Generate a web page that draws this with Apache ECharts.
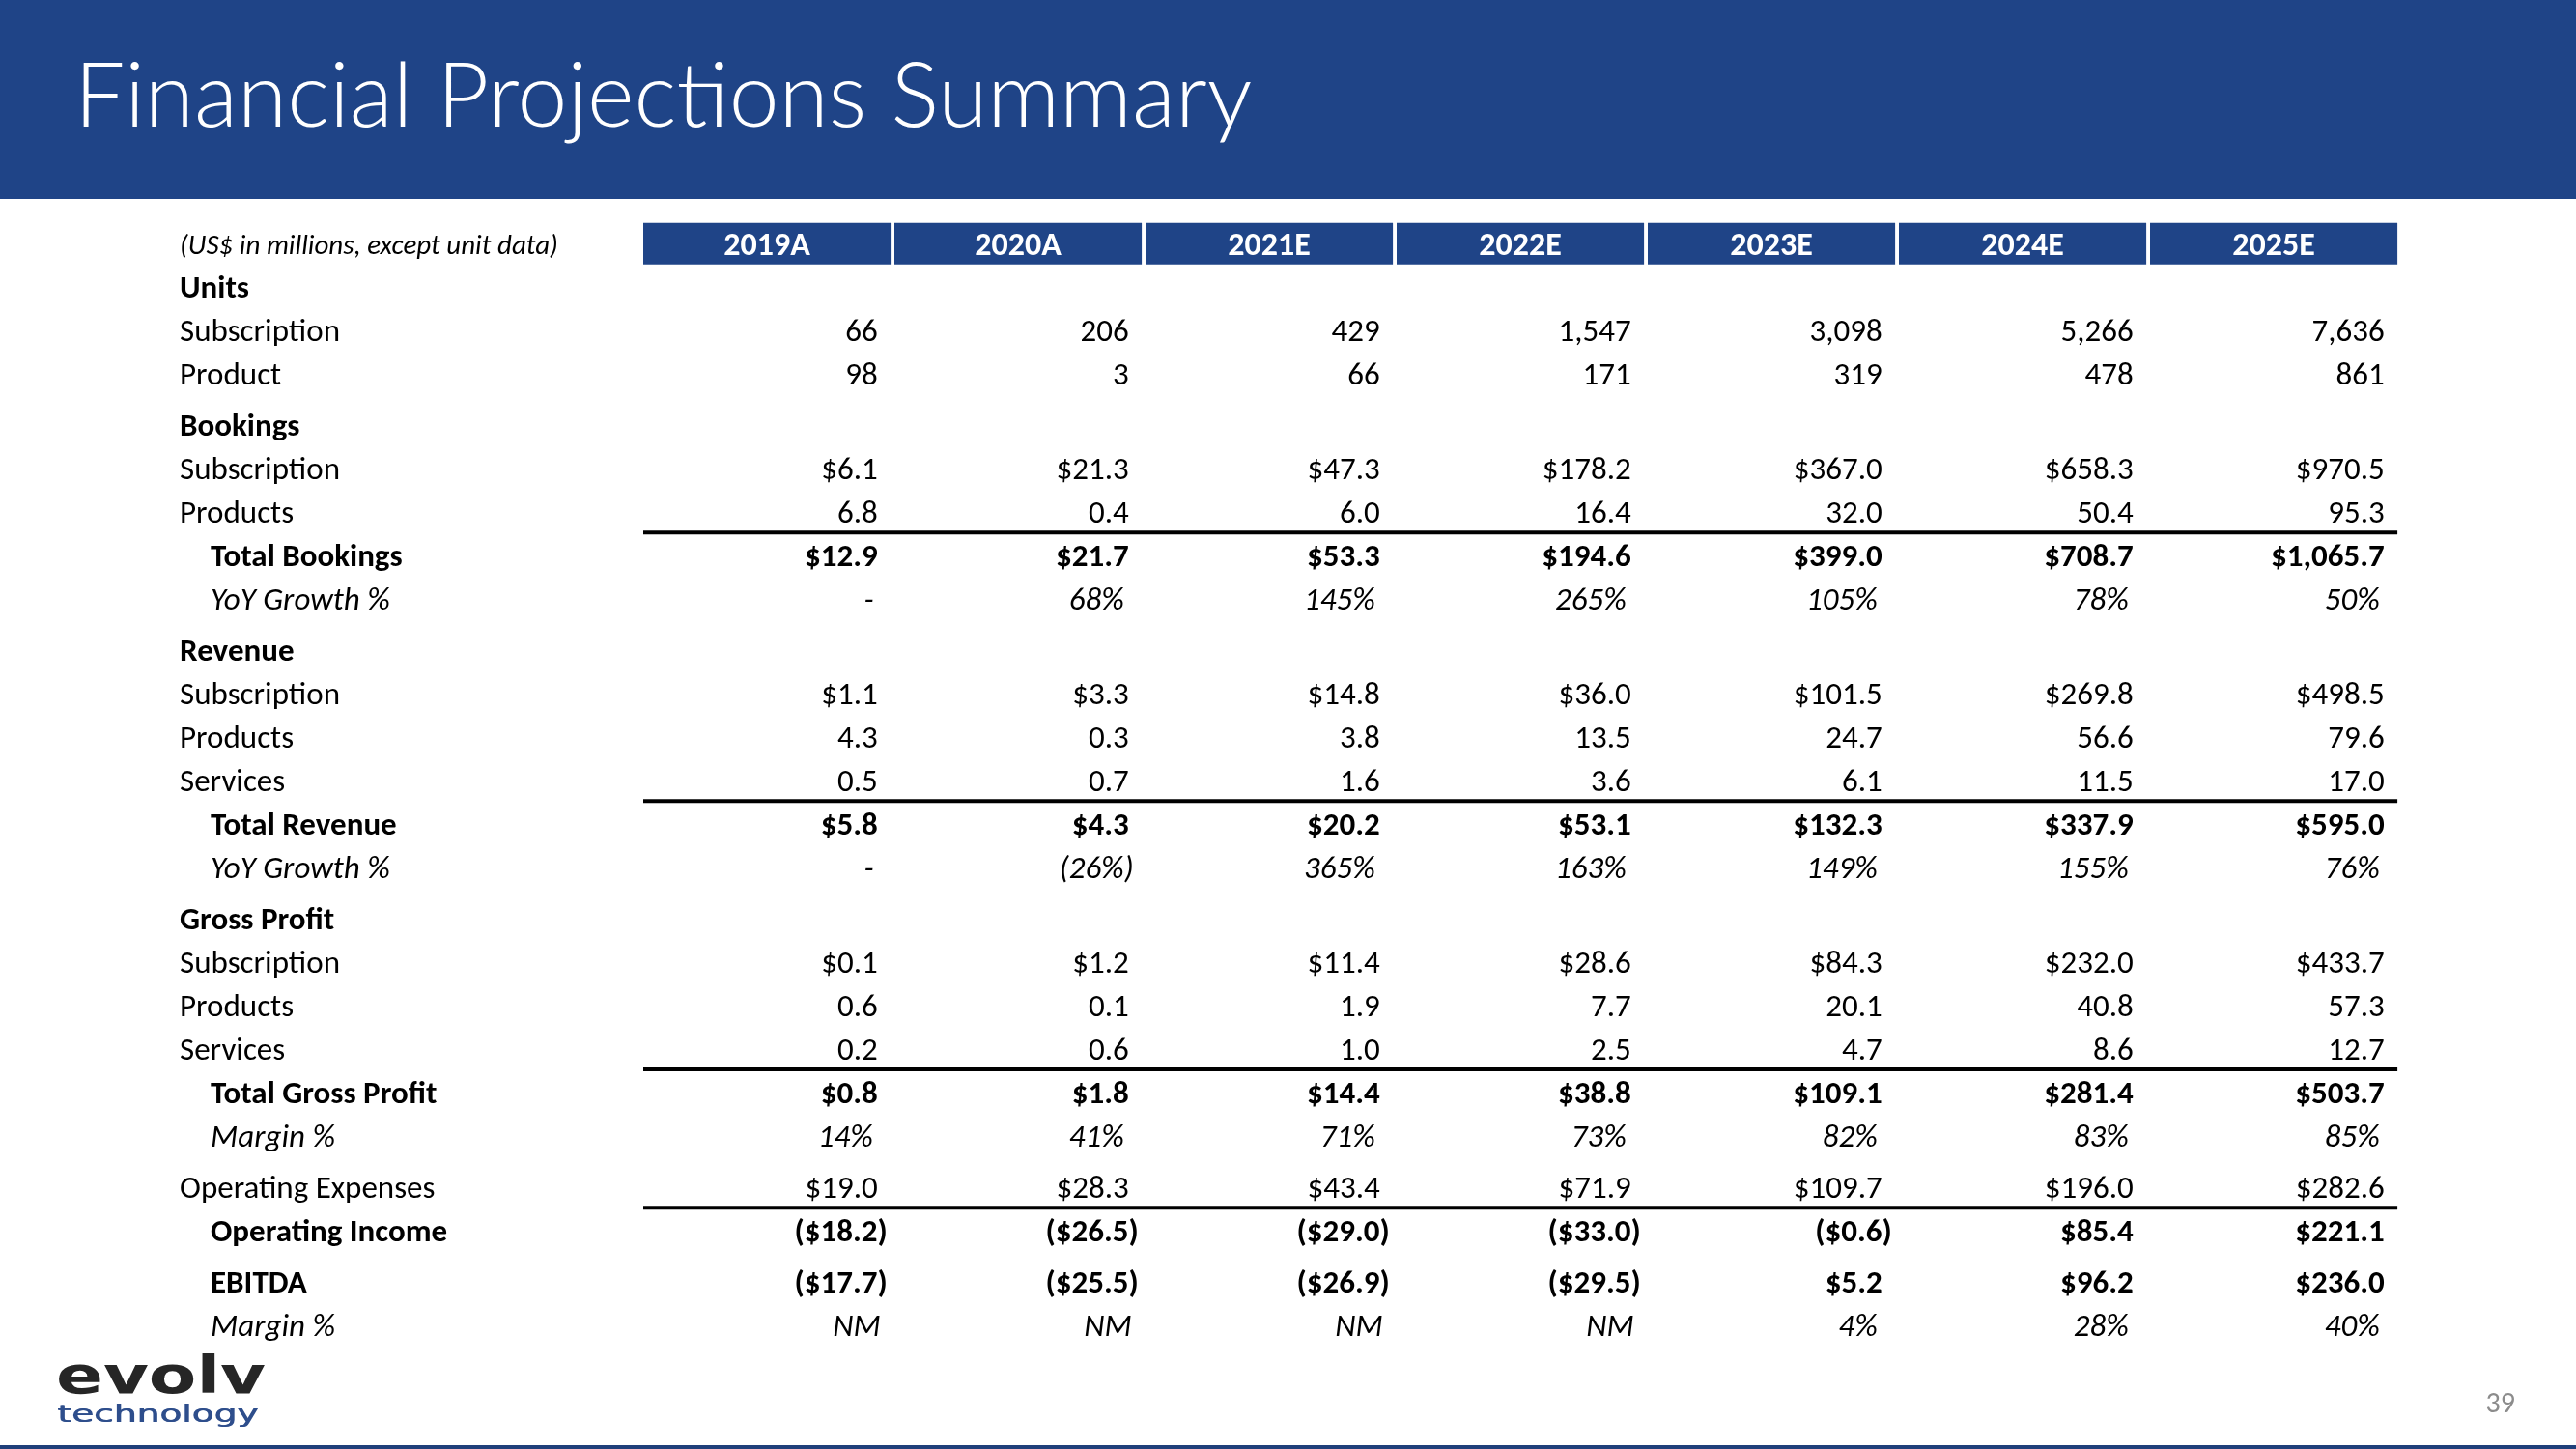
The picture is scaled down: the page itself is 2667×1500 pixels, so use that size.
<!DOCTYPE html>
<html><head><meta charset="utf-8">
<script src="https://cdn.jsdelivr.net/npm/echarts@6/dist/echarts.min.js"></script>
<style>html,body{margin:0;padding:0;background:#fff}#c{width:2667px;height:1500px}</style>
</head><body><div id="c"></div>
<script>
// ---------- data ----------
const years = ['2019A','2020A','2021E','2022E','2023E','2024E','2025E'];
const unitsSubscription    = [66, 206, 429, 1547, 3098, 5266, 7636];
const unitsProduct         = [98, 3, 66, 171, 319, 478, 861];
const bookingsSubscription = [6.1, 21.3, 47.3, 178.2, 367.0, 658.3, 970.5];
const bookingsProducts     = [6.8, 0.4, 6.0, 16.4, 32.0, 50.4, 95.3];
const totalBookings        = [12.9, 21.7, 53.3, 194.6, 399.0, 708.7, 1065.7];
const bookingsYoY          = [null, 68, 145, 265, 105, 78, 50];
const revenueSubscription  = [1.1, 3.3, 14.8, 36.0, 101.5, 269.8, 498.5];
const revenueProducts      = [4.3, 0.3, 3.8, 13.5, 24.7, 56.6, 79.6];
const revenueServices      = [0.5, 0.7, 1.6, 3.6, 6.1, 11.5, 17.0];
const totalRevenue         = [5.8, 4.3, 20.2, 53.1, 132.3, 337.9, 595.0];
const revenueYoY           = [null, -26, 365, 163, 149, 155, 76];
const gpSubscription       = [0.1, 1.2, 11.4, 28.6, 84.3, 232.0, 433.7];
const gpProducts           = [0.6, 0.1, 1.9, 7.7, 20.1, 40.8, 57.3];
const gpServices           = [0.2, 0.6, 1.0, 2.5, 4.7, 8.6, 12.7];
const totalGrossProfit     = [0.8, 1.8, 14.4, 38.8, 109.1, 281.4, 503.7];
const grossMargin          = [14, 41, 71, 73, 82, 83, 85];
const operatingExpenses    = [19.0, 28.3, 43.4, 71.9, 109.7, 196.0, 282.6];
const operatingIncome      = [-18.2, -26.5, -29.0, -33.0, -0.6, 85.4, 221.1];
const ebitda               = [-17.7, -25.5, -26.9, -29.5, 5.2, 96.2, 236.0];
const ebitdaMargin         = [null, null, null, null, 4, 28, 40];

const rowLabels = ['Units','Subscription','Product','Bookings','Subscription','Products','Total Bookings','YoY Growth %',
  'Revenue','Subscription','Products','Services','Total Revenue','YoY Growth %','Gross Profit','Subscription','Products',
  'Services','Total Gross Profit','Margin %','Operating Expenses','Operating Income','EBITDA','Margin %'];
const rowValues = [null, unitsSubscription, unitsProduct, null, bookingsSubscription, bookingsProducts, totalBookings, bookingsYoY,
  null, revenueSubscription, revenueProducts, revenueServices, totalRevenue, revenueYoY, null, gpSubscription, gpProducts,
  gpServices, totalGrossProfit, grossMargin, operatingExpenses, operatingIncome, ebitda, ebitdaMargin];
const rowFormat = [null,'int','int',null,'usd','num','usd','pct',null,'usd','num','num','usd','pct',null,'usd','num','num','usd','pct','usd','usd','usd','pctnm'];
const unitNote = '(US$ in millions, except unit data)';

// ---------- layout / style ----------
const rowKinds = ['section','item','item','section','item','item','total','ratio','section','item','item','item','total','ratio',
  'section','item','item','item','total','ratio','item','total','total','ratio'];
const rowGapBefore = [0,0,0,1,0,0,0,0,1,0,0,0,0,0,1,0,0,0,0,0,1,0,1,0];
const rowRule = [0,0,0,0,0,0,1,0,0,0,0,0,1,0,0,0,0,0,1,0,0,1,0,0];
const GAP = 0.185;
const rowPos = [];
{ let g = 0; rowLabels.forEach((_, i) => { g += rowGapBefore[i]; rowPos.push(i + g * GAP); }); }
const HEADER_POS = -0.97;
const LABEL_X = -1.846, INDENT_X = -1.723, BOX_W = 0.985, ANCHOR = 0.972;
const FONT = 'Carlito, Lato, sans-serif';
const FS = 33;
const TEXT_DY = 4;
const NAVY = '#1F4487';

function fmtNum(v, d) {
  return Math.abs(v).toLocaleString('en-US', {minimumFractionDigits: d, maximumFractionDigits: d});
}
function fmt(v, f) {
  if (f === 'pct' || f === 'pctnm') {
    if (v === null) return f === 'pct' ? '-' : 'NM';
    return v < 0 ? '(' + fmtNum(v, 0) + '%)' : fmtNum(v, 0) + '%';
  }
  const d = f === 'int' ? 0 : 1;
  const s = (f === 'usd' ? '$' : '') + fmtNum(v, d);
  return v < 0 ? '(' + s + ')' : s;
}
function styleFor(kind) {
  if (kind === 'section' || kind === 'total') return 'normal bold';
  if (kind === 'ratio') return 'italic normal';
  return 'normal normal';
}

// ---------- series data ----------
const headerData = years.map((y, i) => [i, HEADER_POS, i]);
const labelData = rowLabels.map((l, i) => [(rowKinds[i] === 'total' || rowKinds[i] === 'ratio') ? INDENT_X : LABEL_X, rowPos[i], i]);
labelData.push([LABEL_X, HEADER_POS, -1]);
const cellData = [];
rowValues.forEach((vals, r) => { if (vals) vals.forEach((v, c) => cellData.push([c + ANCHOR, rowPos[r], r, c])); });
const ruleData = [];
rowRule.forEach((f, r) => { if (f) ruleData.push([0, rowPos[r] - 0.5, r]); });

const chart = echarts.init(document.getElementById('c'), null, {renderer: 'canvas'});
chart.setOption({
  animation: false,
  backgroundColor: '#fff',
  grid: {left: 16, right: 51, top: 206, bottom: 36},
  xAxis: {type: 'value', min: -2.5, max: 7.5, show: false},
  yAxis: {type: 'value', min: -2, max: 26, inverse: true, show: false},
  graphic: [
    {type: 'rect', left: 0, top: 0, shape: {width: 2667, height: 206}, style: {fill: NAVY}, z: 0},
    {type: 'text', x: 77, y: 101, style: {text: 'Financial Projections Summary', fill: '#fff',
      font: '300 93px Lato, sans-serif', align: 'left', verticalAlign: 'middle'}, z: 1},
    {type: 'rect', left: 0, top: 1496, shape: {width: 2667, height: 4}, style: {fill: '#1F3F7A'}},
    {type: 'text', x: 2604, y: 1454, style: {text: '39', fill: '#8C8C8C', font: '30px ' + FONT, align: 'right', verticalAlign: 'middle'}},
    {type: 'text', x: 58, y: 1455, scaleX: 1.36, style: {text: 'evolv', fill: '#262626', font: 'bold 53px "DejaVu Sans"', align: 'left', verticalAlign: 'bottom'}},
    {type: 'text', x: 59, y: 1478, scaleX: 1.5, style: {text: 'technology', fill: '#2E4E8C', font: '25px "DejaVu Sans"', align: 'left', verticalAlign: 'bottom'}},
    {type: 'text', x: 60, y: 1478, scaleX: 1.5, style: {text: 'technology', fill: '#2E4E8C', font: '25px "DejaVu Sans"', align: 'left', verticalAlign: 'bottom'}}
  ],
  series: [
    { // header boxes
      type: 'custom', data: headerData, encode: {x: 0, y: 1},
      renderItem: (params, api) => {
        const i = api.value(2);
        const p0 = api.coord([api.value(0), api.value(1) - 0.48]);
        const p1 = api.coord([api.value(0) + BOX_W, api.value(1) + 0.48]);
        return {type: 'group', children: [
          {type: 'rect', shape: {x: p0[0], y: p0[1], width: p1[0] - p0[0], height: p1[1] - p0[1]}, style: {fill: NAVY}},
          {type: 'text', x: (p0[0] + p1[0]) / 2, y: (p0[1] + p1[1]) / 2 + 3,
            style: {text: years[i], fill: '#fff', font: 'bold 34px ' + FONT, align: 'center', verticalAlign: 'middle'}}
        ]};
      }
    },
    { // row labels
      type: 'custom', data: labelData, encode: {x: 0, y: 1},
      renderItem: (params, api) => {
        const r = api.value(2);
        const p = api.coord([api.value(0), api.value(1)]);
        if (r < 0) {
          return {type: 'text', x: p[0], y: p[1] + 3, style: {text: unitNote, fill: '#000',
            font: 'italic 29px ' + FONT, align: 'left', verticalAlign: 'middle'}};
        }
        return {type: 'text', x: p[0], y: p[1] + TEXT_DY, style: {text: rowLabels[r], fill: '#000',
          font: styleFor(rowKinds[r]) + ' ' + FS + 'px ' + FONT, align: 'left', verticalAlign: 'middle'}};
      }
    },
    { // value cells
      type: 'custom', data: cellData, encode: {x: 0, y: 1},
      renderItem: (params, api) => {
        const r = api.value(2), c = api.value(3);
        const v = rowValues[r][c], f = rowFormat[r];
        const s = fmt(v, f);
        const p = api.coord([api.value(0), api.value(1)]);
        let off = 0;
        const paren = s.charAt(s.length - 1) === ')';
        if (f === 'pct' || f === 'pctnm') {
          if (v === null) off = f === 'pct' ? -14 : -7; else off = paren ? -5 : -15;
        } else off = paren ? 0 : -10;
        return {type: 'text', x: p[0] + off, y: p[1] + TEXT_DY, style: {text: s, fill: '#000',
          font: styleFor(rowKinds[r]) + ' ' + FS + 'px ' + FONT, align: 'right', verticalAlign: 'middle'}};
      }
    },
    { // underline rules above totals
      type: 'custom', data: ruleData, encode: {x: 0, y: 1},
      renderItem: (params, api) => {
        const p0 = api.coord([0, api.value(1)]);
        const p1 = api.coord([years.length - 1 + BOX_W, api.value(1)]);
        return {type: 'line', shape: {x1: p0[0], y1: p0[1], x2: p1[0], y2: p1[1]}, style: {stroke: '#000', lineWidth: 4}};
      }
    }
  ]
});
</script></body></html>
